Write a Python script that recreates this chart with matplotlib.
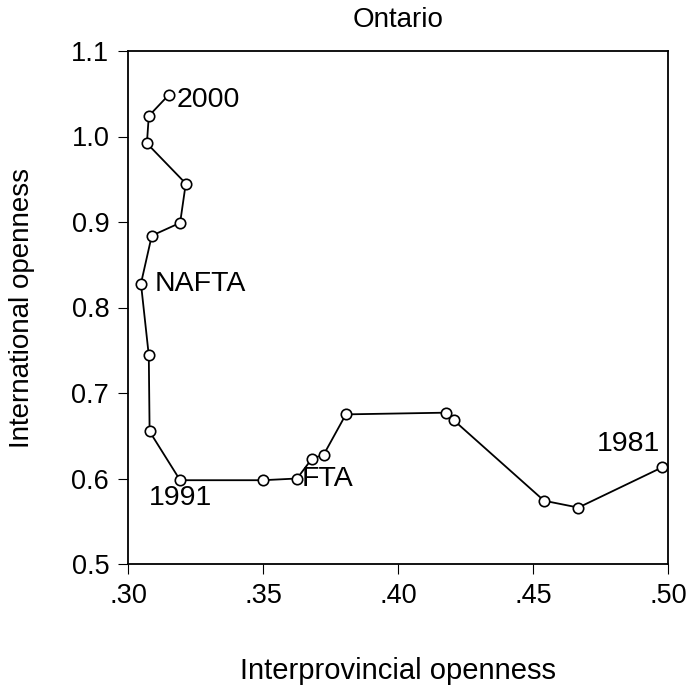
import matplotlib
matplotlib.use("Agg")
import matplotlib.pyplot as plt

plt.rcParams['font.family'] = ['Liberation Sans', 'DejaVu Sans']

# Ontario, 1981-2000
years = list(range(1981, 2001))
interprov = [0.4978, 0.4668, 0.4541, 0.4207, 0.4179, 0.3807, 0.3725, 0.3681, 0.3626, 0.3500,
             0.3193, 0.3080, 0.3077, 0.3048, 0.3088, 0.3193, 0.3214, 0.3070, 0.3077, 0.3152]
intl = [0.613, 0.566, 0.574, 0.668, 0.677, 0.675, 0.628, 0.623, 0.600, 0.598,
        0.598, 0.655, 0.744, 0.828, 0.884, 0.899, 0.945, 0.992, 1.024, 1.049]

# year -> (label, offset in points, ha, va)
labels = {
    2000: ("2000", (5.5, -4), 'left', 'center'),
    1994: ("NAFTA", (10, 0), 'left', 'center'),
    1991: ("1991", (0, -12.5), 'center', 'center'),
    1989: ("FTA", (3.5, 0), 'left', 'center'),
    1981: ("1981", (-1.5, 16.5), 'right', 'center'),
}

xticks = [0.30, 0.35, 0.40, 0.45, 0.50]
xticklabels = ['.30', '.35', '.40', '.45', '.50']
yticks = [0.5, 0.6, 0.7, 0.8, 0.9, 1.0, 1.1]
yticklabels = ['0.5', '0.6', '0.7', '0.8', '0.9', '1.0', '1.1']

fig = plt.figure(figsize=(6.89, 6.86), dpi=100)
ax = fig.add_axes([128/689, 1 - 564/686, 540/689, 513/686])

ax.plot(interprov, intl, color='black', lw=1.3, marker='o', ms=7.5,
        mfc='white', mec='black', mew=1.2, zorder=3, clip_on=False)

for yr, (txt, off, ha, va) in labels.items():
    i = years.index(yr)
    ax.annotate(txt, (interprov[i], intl[i]), xytext=off, textcoords='offset points',
                ha=ha, va=va, fontsize=20.5)

ax.set_xlim(0.30, 0.50)
ax.set_ylim(0.5, 1.1)
ax.set_xticks(xticks)
ax.set_xticklabels(xticklabels)
ax.set_yticks(yticks)
ax.set_yticklabels(yticklabels)
ax.tick_params(direction='out', length=7.5, width=0.8, labelsize=19.5, pad=6)
for s in ax.spines.values():
    s.set_linewidth(1.3)

ax.set_title("Ontario", fontsize=20, pad=17)
ax.set_xlabel("Interprovincial openness", fontsize=21, labelpad=35)
ax.set_ylabel("International openness", fontsize=20, labelpad=26)

fig.savefig("out.png", dpi=100)
